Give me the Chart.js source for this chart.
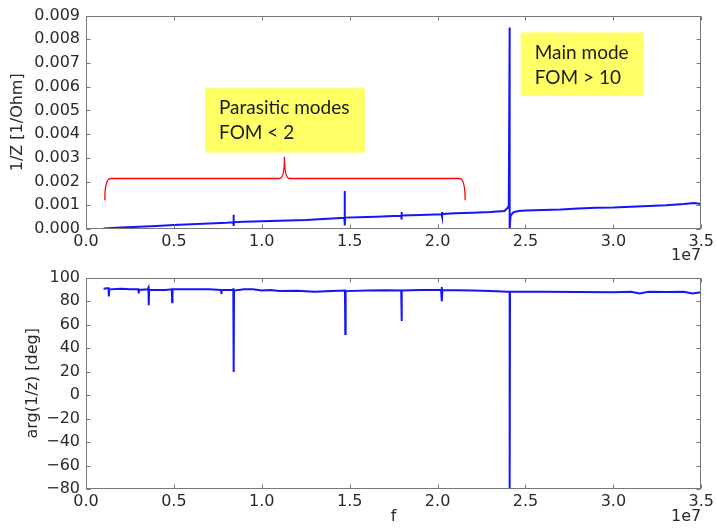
<!DOCTYPE html>
<html>
<head>
<meta charset="utf-8">
<script src="https://cdn.jsdelivr.net/npm/chart.js@4.4.1/dist/chart.umd.min.js"></script>
<style>
  html, body { margin: 0; padding: 0; background: #fff; }
  #wrap { position: relative; width: 717px; height: 529px; }
  #top { position: absolute; left: 0; top: 0; }
  #bot { position: absolute; left: 0; top: 262px; }
</style>
</head>
<body>
<div id="wrap">
  <canvas id="top" width="717" height="262"></canvas>
  <canvas id="bot" width="717" height="267"></canvas>
</div>
<script>
// --- data (frequency in MHz) ---
const freqTop = [1.0, 2.0, 3.0, 4.0, 5.0, 6.0, 7.0, 8.0, 8.38, 8.4, 8.4, 8.42, 9.0, 10.0, 11.0, 12.0, 12.5, 13.5, 14.5, 14.7, 14.72, 14.72, 14.74, 15.5, 16.5, 17.5, 17.93, 17.95, 17.95, 17.97, 19.0, 20.23, 20.25, 20.25, 20.27, 21.0, 22.0, 23.0, 23.8, 24.0, 24.05, 24.1, 24.1, 24.15, 24.3, 24.6, 25.0, 26.0, 27.0, 28.0, 29.0, 30.0, 31.0, 32.0, 33.0, 34.0, 34.6, 35.0];
const admTop = [0.00002, 0.00006, 0.0001, 0.00013, 0.00017, 0.0002, 0.00023, 0.00026, 0.00028, 0.0006, 0.00013, 0.00029, 0.00031, 0.00033, 0.00035, 0.00037, 0.00038, 0.00042, 0.00046, 0.00047, 0.0016, 0.00015, 0.00048, 0.0005, 0.00052, 0.00055, 0.00056, 0.00072, 0.0004, 0.00057, 0.00059, 0.00062, 0.00072, 0.00055, 0.00063, 0.00066, 0.00069, 0.00072, 0.00076, 0.0009, 0.001, 0.0085, 0.0, 0.00055, 0.0007, 0.00076, 0.00078, 0.0008, 0.00082, 0.00086, 0.0009, 0.00091, 0.00094, 0.00097, 0.001, 0.00105, 0.0011, 0.00105];

const freqBot = [1.0, 1.2, 1.28, 1.3, 1.32, 2.0, 2.5, 2.98, 3.0, 3.02, 3.5, 3.55, 3.57, 3.59, 4.5, 4.88, 4.9, 4.92, 6.0, 7.0, 7.68, 7.7, 7.72, 8.3, 8.38, 8.4, 8.42, 9.0, 9.5, 10.0, 10.5, 11.0, 12.0, 13.0, 14.0, 14.73, 14.75, 14.77, 16.0, 17.0, 17.93, 17.95, 17.97, 19.0, 20.2, 20.23, 20.25, 20.27, 22.0, 23.0, 24.0, 24.1, 24.1, 24.12, 26.0, 28.0, 30.0, 31.0, 31.5, 32.0, 33.0, 34.0, 34.5, 35.0];
const phaseBot = [90.5, 91, 91, 84, 90, 90.5, 90, 90, 86.5, 89.5, 90, 91.5, 76.5, 89.5, 89.5, 90, 79, 90, 90, 90, 89.5, 86, 89.5, 89.5, 90, 19.6, 89, 90, 90, 89, 89.5, 88.5, 88.8, 88, 88.5, 89, 52, 88.5, 89, 89.2, 89, 63, 89, 89.5, 89.5, 92, 80, 89.5, 89, 88.5, 88, 88, -80, 88, 88, 87.8, 87.6, 88, 86.5, 88, 87.8, 88, 86.5, 87.5];

const xTicks = [0, 5, 10, 15, 20, 25, 30, 35]; // MHz

const LINE = 'rgb(20,20,255)';
const FRAME = '#777';
const INK = '#2a2a2a';
const FONT = 'DejaVu Sans, sans-serif';

// annotations, positioned in data units of the top chart
const noteBoxes = [
  { x0: 6.77e6, x1: 15.86e6, y0: 0.00594, y1: 0.00322, lines: ['Parasitic modes', 'FOM < 2'] },
  { x0: 24.73e6, x1: 31.73e6, y0: 0.00829, y1: 0.00561, lines: ['Main mode', 'FOM > 10'] },
];
const brace = { x0: 1.07e6, xm: 11.29e6, x1: 21.57e6, yEnd: 0.00121, yBar: 0.00213, yTip: 0.00305 };

function points(fs, vs) {
  return fs.map((f, i) => ({ x: f * 1e6, y: vs[i] }));
}

const framePlugin = {
  id: 'frame',
  afterDraw(chart, args, opts) {
    const { ctx, chartArea: a, scales } = chart;
    const L = Math.round(a.left) + 0.5, R = Math.round(a.right) - 0.5;
    const T = Math.round(a.top) + 0.5, B = Math.round(a.bottom) - 0.5;
    ctx.save();
    ctx.strokeStyle = FRAME;
    ctx.lineWidth = 1;
    ctx.strokeRect(L, T, R - L, B - T);
    ctx.beginPath();
    scales.x.ticks.forEach((t, i) => {
      const px = Math.round(scales.x.getPixelForTick(i)) + 0.5;
      ctx.moveTo(px, B); ctx.lineTo(px, B - 4);
      ctx.moveTo(px, T); ctx.lineTo(px, T + 4);
    });
    scales.y.ticks.forEach((t, i) => {
      const py = Math.round(scales.y.getPixelForTick(i)) + 0.5;
      ctx.moveTo(L, py); ctx.lineTo(L + 4, py);
      ctx.moveTo(R, py); ctx.lineTo(R - 4, py);
    });
    ctx.stroke();
    // offset text
    ctx.fillStyle = INK;
    ctx.font = '16px ' + FONT;
    ctx.textAlign = 'right';
    ctx.textBaseline = 'middle';
    ctx.fillText('1e7', a.right, a.bottom + opts.offsetY);
    ctx.restore();
  }
};

const notesPlugin = {
  id: 'notes',
  afterDraw(chart) {
    const { ctx, scales: { x, y } } = chart;
    ctx.save();
    noteBoxes.forEach((b) => {
      const l = x.getPixelForValue(b.x0), r = x.getPixelForValue(b.x1);
      const t = y.getPixelForValue(b.y0), btm = y.getPixelForValue(b.y1);
      ctx.fillStyle = '#ffff66';
      ctx.fillRect(l, t, r - l, btm - t);
      ctx.fillStyle = '#1a1a1a';
      ctx.font = '19px Lato, sans-serif';
      ctx.textAlign = 'left';
      ctx.textBaseline = 'middle';
      b.lines.forEach((s, i) => ctx.fillText(s, l + 14, t + 20 + i * 25));
    });
    const bx0 = x.getPixelForValue(brace.x0), bxm = x.getPixelForValue(brace.xm), bx1 = x.getPixelForValue(brace.x1);
    const yE = y.getPixelForValue(brace.yEnd), yB = y.getPixelForValue(brace.yBar), yT = y.getPixelForValue(brace.yTip);
    ctx.strokeStyle = '#ff0000';
    ctx.lineWidth = 1.3;
    ctx.beginPath();
    ctx.moveTo(bx0, yE);
    ctx.quadraticCurveTo(bx0, yB, bx0 + 6, yB);
    ctx.lineTo(bxm - 5, yB);
    ctx.quadraticCurveTo(bxm, yB, bxm, yT);
    ctx.quadraticCurveTo(bxm, yB, bxm + 5, yB);
    ctx.lineTo(bx1 - 6, yB);
    ctx.quadraticCurveTo(bx1, yB, bx1, yE);
    ctx.stroke();
    ctx.restore();
  }
};

function xScale(height, title) {
  return {
    type: 'linear',
    min: 0,
    max: 35e6,
    afterBuildTicks: (s) => { s.ticks = xTicks.map((v) => ({ value: v * 1e6 })); },
    afterFit: (s) => { s.height = height; },
    grid: { display: false, drawTicks: false },
    border: { display: false },
    ticks: {
      color: INK,
      font: { family: FONT, size: 16 },
      padding: 3,
      maxRotation: 0,
      autoSkip: false,
      callback: (v) => (v / 1e7).toFixed(1),
    },
    title: title
      ? { display: true, text: title, color: INK, font: { family: FONT, size: 16, lineHeight: 1.2 }, padding: { top: 0, bottom: 2.4 } }
      : { display: false },
  };
}

function yScale(min, max, step, fmt, title, titlePad) {
  return {
    type: 'linear',
    min, max,
    afterFit: (s) => { s.width = 86; },
    grid: { display: false, drawTicks: false },
    border: { display: false },
    ticks: {
      stepSize: step,
      color: INK,
      font: { family: FONT, size: 16 },
      padding: 6,
      callback: fmt,
    },
    title: { display: true, text: title, color: INK, font: { family: FONT, size: 16, lineHeight: 1.2 }, padding: { top: titlePad, bottom: 0 } },
  };
}

function lineDataset(fs, vs) {
  return {
    data: points(fs, vs),
    borderColor: LINE,
    borderWidth: 2,
    pointRadius: 0,
    tension: 0,
    fill: false,
  };
}

const common = {
  responsive: false,
  animation: false,
  devicePixelRatio: 1,
  plugins: { legend: { display: false }, tooltip: { enabled: false } },
};

new Chart(document.getElementById('top'), {
  type: 'line',
  data: { datasets: [lineDataset(freqTop, admTop)] },
  options: {
    ...common,
    layout: { padding: { top: 14, right: 11, left: 0, bottom: 0 } },
    plugins: { ...common.plugins, frame: { offsetY: 27 } },
    scales: {
      x: xScale(33, null),
      y: yScale(0, 0.009, 0.001, (v) => v.toFixed(3), '1/Z [1/Ohm]', 8.4),
    },
  },
  plugins: [framePlugin, notesPlugin],
});

new Chart(document.getElementById('bot'), {
  type: 'line',
  data: { datasets: [lineDataset(freqBot, phaseBot)] },
  options: {
    ...common,
    layout: { padding: { top: 12, right: 11, left: 0, bottom: 0 } },
    plugins: { ...common.plugins, frame: { offsetY: 28 } },
    scales: {
      x: xScale(40, 'f'),
      y: yScale(-80, 100, 20, (v) => String(v).replace('-', '\u2212'), 'arg(1/z) [deg]', 23.4),
    },
  },
  plugins: [framePlugin],
});
</script>
</body>
</html>
